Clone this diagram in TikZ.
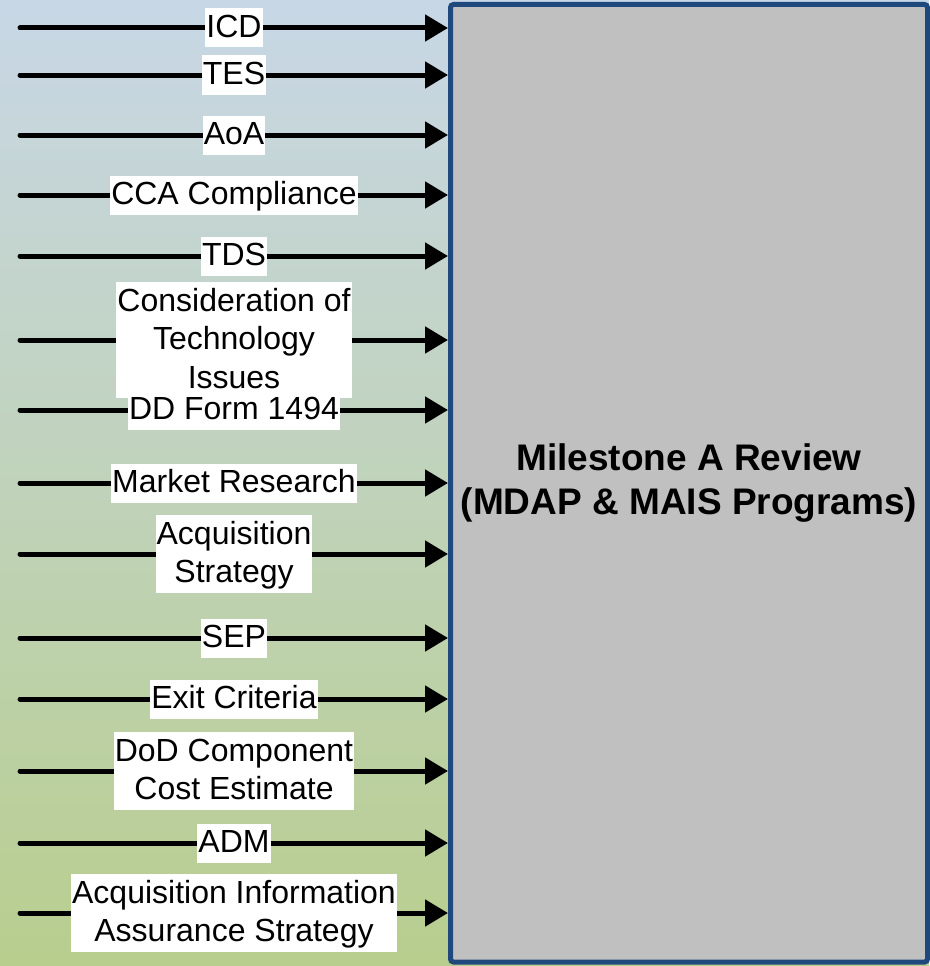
\documentclass[tikz,border=0pt]{standalone}
\usepackage{fontspec}
\setmainfont{Liberation Sans}
\usepackage{tikz}
\usetikzlibrary{arrows.meta, positioning, calc}
\definecolor{skytop}{HTML}{C8D7E6}
\definecolor{grassbot}{HTML}{B8CE8E}
\definecolor{boxgray}{HTML}{C0C0C0}
\definecolor{boxblue}{HTML}{1F497D}

\tikzset{
  feed/.style={-{Triangle[length=23pt, width=26pt]}, black, line width=5pt, line cap=round},
  lbl/.style={fill=white, text=black, inner xsep=1pt, inner ysep=0pt, align=center,
    font=\fontsize{32}{38.5}\selectfont, text height=29pt, text depth=10pt},
  lbltwo/.style={lbl, text height=67.5pt},
  lblthree/.style={lbl, text height=106pt},
  reviewbox/.style={draw=boxblue, fill=boxgray, line width=5pt, rounded corners=3pt,
    align=center, font=\bfseries\fontsize{37}{44.5}\selectfont}
}

\begin{document}
\begin{tikzpicture}[x=1pt, y=-1pt]
    \useasboundingbox (0,0) rectangle (929,966);
    % Background
    \fill[top color=skytop, bottom color=grassbot] (0,0) rectangle (929,966);

    % Review box
    \node[reviewbox, minimum width=477pt, minimum height=957.5pt] (review) at (689,483.25)
        {Milestone A Review\\(MDAP \& MAIS Programs)};

    % Inputs
    \coordinate (s1) at (20,28);
    \coordinate (s2) at (20,75);
    \coordinate (s3) at (20,135);
    \coordinate (s4) at (20,195);
    \coordinate (s5) at (20,256);
    \coordinate (s6) at (20,340);
    \coordinate (s7) at (20,410);
    \coordinate (s8) at (20,483);
    \coordinate (s9) at (20,554);
    \coordinate (s10) at (20,638);
    \coordinate (s11) at (20,699);
    \coordinate (s12) at (20,771);
    \coordinate (s13) at (20,843);
    \coordinate (s14) at (20,913);

    \draw[feed] (s1) -- node[lbl] (icd) {ICD} (review.west |- s1);
    \draw[feed] (s2) -- node[lbl] (tes) {TES} (review.west |- s2);
    \draw[feed] (s3) -- node[lbl] (aoa) {AoA} (review.west |- s3);
    \draw[feed] (s4) -- node[lbl] (cca) {CCA Compliance} (review.west |- s4);
    \draw[feed] (s5) -- node[lbl] (tds) {TDS} (review.west |- s5);
    \draw[feed] (s6) -- node[lblthree] (tech) {Consideration of\\Technology\\Issues} (review.west |- s6);
    \draw[feed] (s7) -- node[lbl] (ddform) {DD Form 1494} (review.west |- s7);
    \draw[feed] (s8) -- node[lbl] (market) {Market Research} (review.west |- s8);
    \draw[feed] (s9) -- node[lbltwo] (acqstrat) {Acquisition\\Strategy} (review.west |- s9);
    \draw[feed] (s10) -- node[lbl] (sep) {SEP} (review.west |- s10);
    \draw[feed] (s11) -- node[lbl] (exit) {Exit Criteria} (review.west |- s11);
    \draw[feed] (s12) -- node[lbltwo] (cost) {DoD Component\\Cost Estimate} (review.west |- s12);
    \draw[feed] (s13) -- node[lbl] (adm) {ADM} (review.west |- s13);
    \draw[feed] (s14) -- node[lbltwo] (aias) {Acquisition Information\\Assurance Strategy} (review.west |- s14);
\end{tikzpicture}
\end{document}
